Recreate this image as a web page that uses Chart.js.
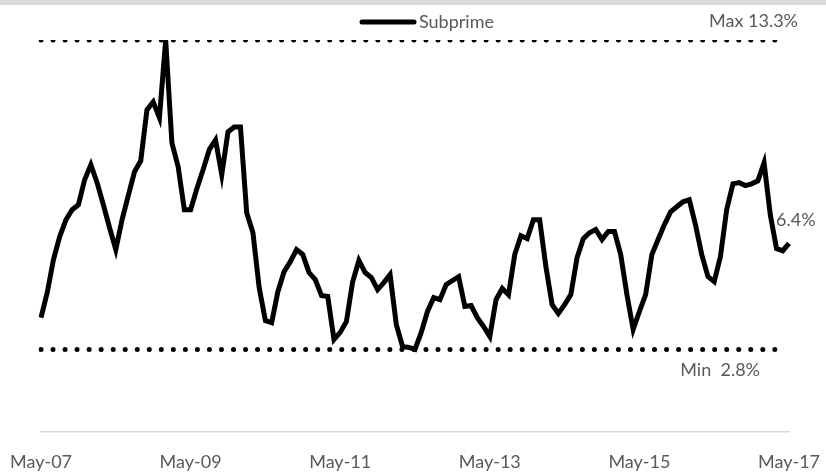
<!DOCTYPE html>
<html>
<head>
<meta charset="utf-8">
<script src="https://cdn.jsdelivr.net/npm/chart.js@4.4.0/dist/chart.umd.min.js"></script>
<style>
  html, body { margin: 0; padding: 0; background: #ffffff; }
  #wrap { width: 826px; height: 476px; position: relative; }
</style>
</head>
<body>
<div id="wrap"><canvas id="c" width="826" height="476"></canvas></div>
<script>
// ---- Data ----
const monthNames = ['Jan','Feb','Mar','Apr','May','Jun','Jul','Aug','Sep','Oct','Nov','Dec'];
const months = [];
for (let k = 0; k < 121; k++) {
  const m = (4 + k) % 12;
  const y = 7 + Math.floor((4 + k) / 12);
  months.push(monthNames[m] + '-' + String(y).padStart(2, '0'));
}
const tickLabels = ['May-07', 'May-09', 'May-11', 'May-13', 'May-15', 'May-17'];
const seriesName = 'Subprime';
const subprime = [
  3.88, 4.73, 5.85, 6.63, 7.20, 7.54, 7.71, 8.56, 9.07, 8.46,
  7.71, 6.93, 6.19, 7.20, 8.02, 8.83, 9.20, 10.93, 11.20, 10.66,
  13.30, 9.81, 9.00, 7.54, 7.54, 8.25, 8.90, 9.58, 9.91, 8.73,
  10.18, 10.35, 10.35, 7.44, 6.76, 4.90, 3.78, 3.71, 4.76, 5.44,
  5.78, 6.19, 6.02, 5.41, 5.17, 4.63, 4.60, 3.14, 3.38, 3.75,
  5.10, 5.82, 5.41, 5.24, 4.83, 5.07, 5.34, 3.65, 2.90, 2.87,
  2.80, 3.38, 4.09, 4.56, 4.49, 5.00, 5.14, 5.27, 4.26, 4.29,
  3.88, 3.58, 3.24, 4.49, 4.87, 4.66, 6.02, 6.66, 6.56, 7.20,
  7.20, 5.61, 4.32, 4.02, 4.32, 4.66, 5.92, 6.56, 6.76, 6.87,
  6.53, 6.80, 6.80, 6.02, 4.66, 3.48, 4.09, 4.66, 6.02, 6.53,
  7.03, 7.47, 7.64, 7.81, 7.88, 7.03, 6.02, 5.27, 5.10, 5.95,
  7.54, 8.42, 8.46, 8.36, 8.42, 8.52, 9.13, 7.37, 6.22, 6.15,
  6.40
];
const maxValue = 13.3;
const minValue = 2.8;
const maxLabel = 'Max 13.3%';
const minLabel = 'Min  2.8%';
const lastLabel = '6.4%';

const textColor = '#595959';
const fontFamily = 'Lato, "Open Sans", sans-serif';

const maxLine = months.map((_, i) => (i <= 118 ? maxValue : null));
const minLine = months.map((_, i) => (i <= 118 ? minValue : null));

const annotations = {
  id: 'annotations',
  beforeDraw(chart) {
    const ctx = chart.ctx;
    ctx.save();
    ctx.fillStyle = '#d9d9d9';
    ctx.fillRect(0, 0, chart.width, 5);
    ctx.restore();
  },
  afterDraw(chart) {
    const ctx = chart.ctx;
    const xs = chart.scales.x, ys = chart.scales.y;
    ctx.save();
    ctx.font = '18px ' + fontFamily;
    ctx.fillStyle = textColor;
    ctx.textBaseline = 'alphabetic';
    ctx.textAlign = 'left';
    // legend
    ctx.strokeStyle = '#000000';
    ctx.lineWidth = 5;
    ctx.lineCap = 'round';
    ctx.beginPath();
    ctx.moveTo(362, 22);
    ctx.lineTo(414, 22);
    ctx.stroke();
    ctx.fillText(seriesName, 419, 28);
    // max label
    const yMax = ys.getPixelForValue(maxValue);
    ctx.textAlign = 'right';
    ctx.fillText(maxLabel, 798, yMax - 13);
    // min label
    const yMin = ys.getPixelForValue(minValue);
    ctx.fillText(minLabel, 760, yMin + 27);
    // last value label
    const lastIdx = subprime.length - 1;
    const yLast = ys.getPixelForValue(subprime[lastIdx]);
    ctx.textAlign = 'left';
    ctx.fillText(lastLabel, xs.getPixelForValue(lastIdx) - 13, yLast - 17);
    ctx.restore();
  }
};

new Chart(document.getElementById('c'), {
  type: 'line',
  data: {
    labels: months,
    datasets: [
      {
        label: seriesName,
        data: subprime,
        borderColor: '#000000',
        borderWidth: 5,
        pointRadius: 0,
        tension: 0,
        borderJoinStyle: 'miter',
        order: 1
      },
      {
        label: 'Max',
        data: maxLine,
        borderColor: '#000000',
        borderWidth: 5,
        borderDash: [0, 12.03],
        borderCapStyle: 'round',
        pointRadius: 0,
        order: 2
      },
      {
        label: 'Min',
        data: minLine,
        borderColor: '#000000',
        borderWidth: 5,
        borderDash: [0, 12.03],
        borderCapStyle: 'round',
        pointRadius: 0,
        order: 2
      }
    ]
  },
  options: {
    responsive: false,
    animation: false,
    layout: { padding: { top: 40, left: 41, right: 37, bottom: 3 } },
    plugins: {
      legend: { display: false },
      tooltip: { enabled: false }
    },
    scales: {
      x: {
        offset: false,
        grid: { display: false, drawTicks: false },
        border: { display: true, color: '#d9d9d9', width: 1.5 },
        afterFit(scale) {
          scale.height = 41;
          scale.paddingLeft = 0;
          scale.paddingRight = 0;
        },
        ticks: {
          autoSkip: false,
          maxRotation: 0,
          minRotation: 0,
          padding: 19,
          color: textColor,
          font: { family: fontFamily, size: 18 },
          callback: function (val) {
            const l = this.getLabelForValue(val);
            return tickLabels.includes(l) ? l : '';
          }
        }
      },
      y: {
        display: false,
        min: 0,
        max: maxValue
      }
    }
  },
  plugins: [annotations]
});
</script>
</body>
</html>
